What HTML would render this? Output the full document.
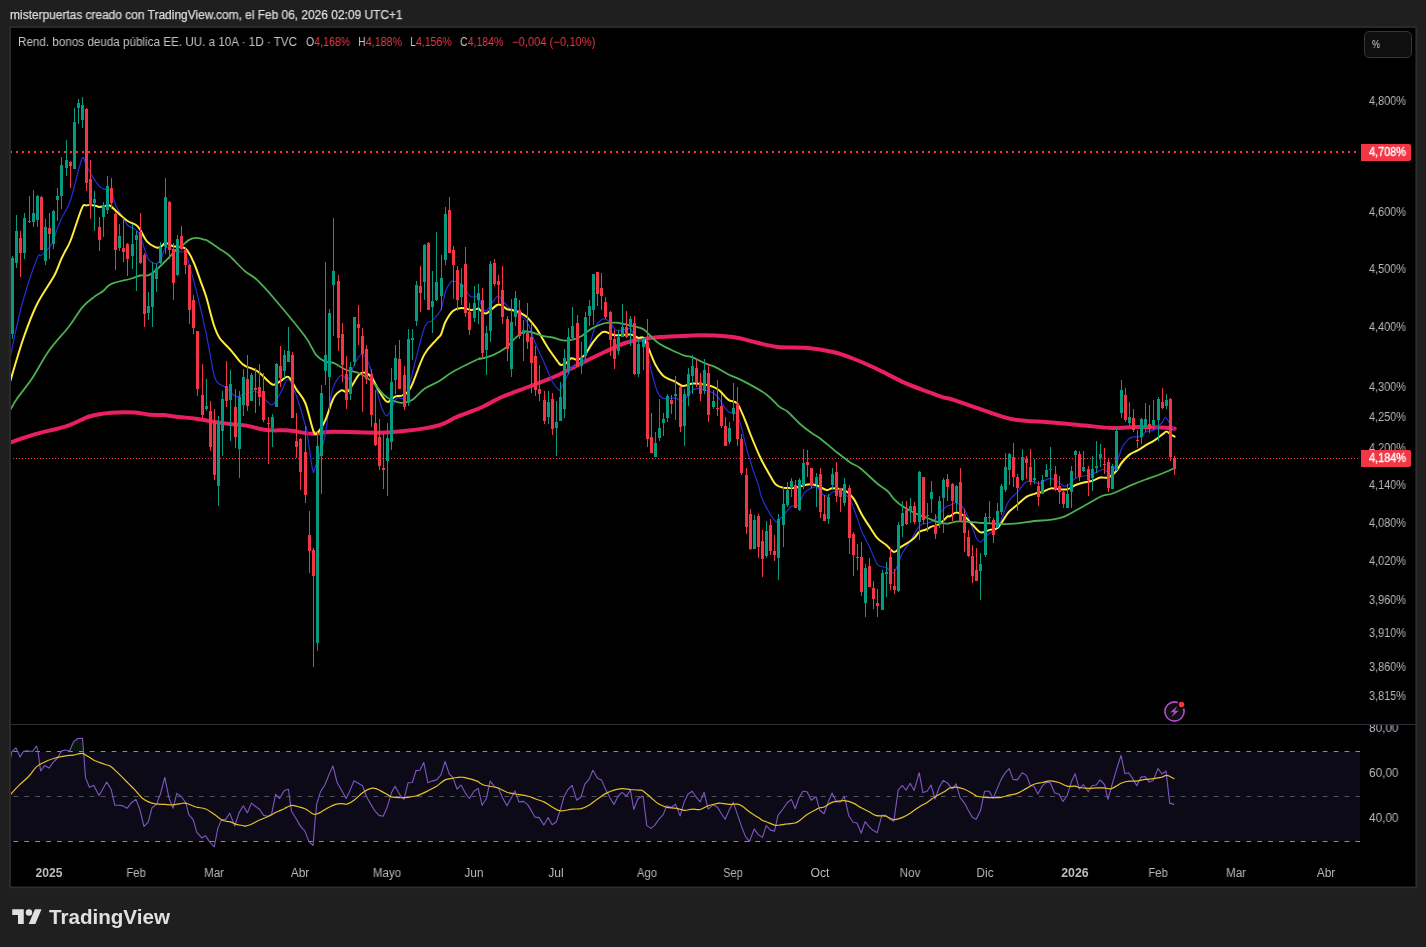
<!DOCTYPE html>
<html><head><meta charset="utf-8"><title>chart</title>
<style>
html,body{margin:0;padding:0;}
body{width:1426px;height:947px;background:#1f1f1f;position:relative;overflow:hidden;font-family:"Liberation Sans",sans-serif;}
.t{position:absolute;white-space:nowrap;will-change:transform;line-height:14px;font-size:12px;color:#c4c4c4;}
.ax{font-size:12px;color:#b8b9be}
.tm{font-size:12px;color:#b8b9be}
.b{font-weight:bold;color:#bcbcbc}
#frame{position:absolute;left:9px;top:26px;width:1406px;height:859px;border:1px solid #2e2e2e;background:#000;box-shadow:inset 0 0 0 1px #161616}
.red{color:#f23645}
.tag{position:absolute;left:1361px;width:50px;height:17px;background:#f23645;color:#fff;font-size:11.4px;line-height:17px;border-radius:0 2px 2px 0}
.tg{color:#fff;font-size:12px;-webkit-text-stroke:0.35px #fff}
#pct{position:absolute;left:1363.6px;top:30.6px;width:46.6px;height:25px;border:1.2px solid #363636;border-radius:5px;background:#0f0f0f}
</style></head><body>
<div class="t " style="left:10px;transform-origin:0 50%;transform:scaleX(0.9937);top:8px;font-size:12px;color:#dcdcdc;-webkit-text-stroke:0.25px #dcdcdc"><span id="f34">misterpuertas creado con TradingView.com, el Feb 06, 2026 02:09 UTC+1</span></div>
<svg width="1426" height="947" viewBox="0 0 1426 947" style="position:absolute;left:0;top:0">
<defs><clipPath id="cp"><rect x="11" y="28" width="1350" height="696"/></clipPath><clipPath id="cr"><rect x="11" y="725" width="1350" height="135"/></clipPath></defs>
<rect x="9.9" y="26.9" width="1406.5" height="860.6" fill="#000" stroke="#242424" stroke-width="2.2"/>
<rect x="9.9" y="26.9" width="1406.5" height="860.6" fill="none" stroke="#2f2f2f" stroke-width="1.1"/>
<g clip-path="url(#cp)">
<path d="M10,151h2v2h-2zM16,151h2v2h-2zM22,151h2v2h-2zM28,151h2v2h-2zM34,151h2v2h-2zM40,151h2v2h-2zM46,151h2v2h-2zM52,151h2v2h-2zM58,151h2v2h-2zM64,151h2v2h-2zM70,151h2v2h-2zM76,151h2v2h-2zM82,151h2v2h-2zM88,151h2v2h-2zM94,151h2v2h-2zM100,151h2v2h-2zM106,151h2v2h-2zM112,151h2v2h-2zM118,151h2v2h-2zM124,151h2v2h-2zM130,151h2v2h-2zM136,151h2v2h-2zM142,151h2v2h-2zM148,151h2v2h-2zM154,151h2v2h-2zM160,151h2v2h-2zM166,151h2v2h-2zM172,151h2v2h-2zM178,151h2v2h-2zM184,151h2v2h-2zM190,151h2v2h-2zM196,151h2v2h-2zM202,151h2v2h-2zM208,151h2v2h-2zM214,151h2v2h-2zM220,151h2v2h-2zM226,151h2v2h-2zM232,151h2v2h-2zM238,151h2v2h-2zM244,151h2v2h-2zM250,151h2v2h-2zM256,151h2v2h-2zM262,151h2v2h-2zM268,151h2v2h-2zM274,151h2v2h-2zM280,151h2v2h-2zM286,151h2v2h-2zM292,151h2v2h-2zM298,151h2v2h-2zM304,151h2v2h-2zM310,151h2v2h-2zM316,151h2v2h-2zM322,151h2v2h-2zM328,151h2v2h-2zM334,151h2v2h-2zM340,151h2v2h-2zM346,151h2v2h-2zM352,151h2v2h-2zM358,151h2v2h-2zM364,151h2v2h-2zM370,151h2v2h-2zM376,151h2v2h-2zM382,151h2v2h-2zM388,151h2v2h-2zM394,151h2v2h-2zM400,151h2v2h-2zM406,151h2v2h-2zM412,151h2v2h-2zM418,151h2v2h-2zM424,151h2v2h-2zM430,151h2v2h-2zM436,151h2v2h-2zM442,151h2v2h-2zM448,151h2v2h-2zM454,151h2v2h-2zM460,151h2v2h-2zM466,151h2v2h-2zM472,151h2v2h-2zM478,151h2v2h-2zM484,151h2v2h-2zM490,151h2v2h-2zM496,151h2v2h-2zM502,151h2v2h-2zM508,151h2v2h-2zM514,151h2v2h-2zM520,151h2v2h-2zM526,151h2v2h-2zM532,151h2v2h-2zM538,151h2v2h-2zM544,151h2v2h-2zM550,151h2v2h-2zM556,151h2v2h-2zM562,151h2v2h-2zM568,151h2v2h-2zM574,151h2v2h-2zM580,151h2v2h-2zM586,151h2v2h-2zM592,151h2v2h-2zM598,151h2v2h-2zM604,151h2v2h-2zM610,151h2v2h-2zM616,151h2v2h-2zM622,151h2v2h-2zM628,151h2v2h-2zM634,151h2v2h-2zM640,151h2v2h-2zM646,151h2v2h-2zM652,151h2v2h-2zM658,151h2v2h-2zM664,151h2v2h-2zM670,151h2v2h-2zM676,151h2v2h-2zM682,151h2v2h-2zM688,151h2v2h-2zM694,151h2v2h-2zM700,151h2v2h-2zM706,151h2v2h-2zM712,151h2v2h-2zM718,151h2v2h-2zM724,151h2v2h-2zM730,151h2v2h-2zM736,151h2v2h-2zM742,151h2v2h-2zM748,151h2v2h-2zM754,151h2v2h-2zM760,151h2v2h-2zM766,151h2v2h-2zM772,151h2v2h-2zM778,151h2v2h-2zM784,151h2v2h-2zM790,151h2v2h-2zM796,151h2v2h-2zM802,151h2v2h-2zM808,151h2v2h-2zM814,151h2v2h-2zM820,151h2v2h-2zM826,151h2v2h-2zM832,151h2v2h-2zM838,151h2v2h-2zM844,151h2v2h-2zM850,151h2v2h-2zM856,151h2v2h-2zM862,151h2v2h-2zM868,151h2v2h-2zM874,151h2v2h-2zM880,151h2v2h-2zM886,151h2v2h-2zM892,151h2v2h-2zM898,151h2v2h-2zM904,151h2v2h-2zM910,151h2v2h-2zM916,151h2v2h-2zM922,151h2v2h-2zM928,151h2v2h-2zM934,151h2v2h-2zM940,151h2v2h-2zM946,151h2v2h-2zM952,151h2v2h-2zM958,151h2v2h-2zM964,151h2v2h-2zM970,151h2v2h-2zM976,151h2v2h-2zM982,151h2v2h-2zM988,151h2v2h-2zM994,151h2v2h-2zM1000,151h2v2h-2zM1006,151h2v2h-2zM1012,151h2v2h-2zM1018,151h2v2h-2zM1024,151h2v2h-2zM1030,151h2v2h-2zM1036,151h2v2h-2zM1042,151h2v2h-2zM1048,151h2v2h-2zM1054,151h2v2h-2zM1060,151h2v2h-2zM1066,151h2v2h-2zM1072,151h2v2h-2zM1078,151h2v2h-2zM1084,151h2v2h-2zM1090,151h2v2h-2zM1096,151h2v2h-2zM1102,151h2v2h-2zM1108,151h2v2h-2zM1114,151h2v2h-2zM1120,151h2v2h-2zM1126,151h2v2h-2zM1132,151h2v2h-2zM1138,151h2v2h-2zM1144,151h2v2h-2zM1150,151h2v2h-2zM1156,151h2v2h-2zM1162,151h2v2h-2zM1168,151h2v2h-2zM1174,151h2v2h-2zM1180,151h2v2h-2zM1186,151h2v2h-2zM1192,151h2v2h-2zM1198,151h2v2h-2zM1204,151h2v2h-2zM1210,151h2v2h-2zM1216,151h2v2h-2zM1222,151h2v2h-2zM1228,151h2v2h-2zM1234,151h2v2h-2zM1240,151h2v2h-2zM1246,151h2v2h-2zM1252,151h2v2h-2zM1258,151h2v2h-2zM1264,151h2v2h-2zM1270,151h2v2h-2zM1276,151h2v2h-2zM1282,151h2v2h-2zM1288,151h2v2h-2zM1294,151h2v2h-2zM1300,151h2v2h-2zM1306,151h2v2h-2zM1312,151h2v2h-2zM1318,151h2v2h-2zM1324,151h2v2h-2zM1330,151h2v2h-2zM1336,151h2v2h-2zM1342,151h2v2h-2zM1348,151h2v2h-2zM1354,151h2v2h-2z" fill="#f23645"/>
<path d="M13,458h1v1h-1zM16,458h1v1h-1zM19,458h1v1h-1zM22,458h1v1h-1zM25,458h1v1h-1zM28,458h1v1h-1zM31,458h1v1h-1zM34,458h1v1h-1zM37,458h1v1h-1zM40,458h1v1h-1zM43,458h1v1h-1zM46,458h1v1h-1zM49,458h1v1h-1zM52,458h1v1h-1zM55,458h1v1h-1zM58,458h1v1h-1zM61,458h1v1h-1zM64,458h1v1h-1zM67,458h1v1h-1zM70,458h1v1h-1zM73,458h1v1h-1zM76,458h1v1h-1zM79,458h1v1h-1zM82,458h1v1h-1zM85,458h1v1h-1zM88,458h1v1h-1zM91,458h1v1h-1zM94,458h1v1h-1zM97,458h1v1h-1zM100,458h1v1h-1zM103,458h1v1h-1zM106,458h1v1h-1zM109,458h1v1h-1zM112,458h1v1h-1zM115,458h1v1h-1zM118,458h1v1h-1zM121,458h1v1h-1zM124,458h1v1h-1zM127,458h1v1h-1zM130,458h1v1h-1zM133,458h1v1h-1zM136,458h1v1h-1zM139,458h1v1h-1zM142,458h1v1h-1zM145,458h1v1h-1zM148,458h1v1h-1zM151,458h1v1h-1zM154,458h1v1h-1zM157,458h1v1h-1zM160,458h1v1h-1zM163,458h1v1h-1zM166,458h1v1h-1zM169,458h1v1h-1zM172,458h1v1h-1zM175,458h1v1h-1zM178,458h1v1h-1zM181,458h1v1h-1zM184,458h1v1h-1zM187,458h1v1h-1zM190,458h1v1h-1zM193,458h1v1h-1zM196,458h1v1h-1zM199,458h1v1h-1zM202,458h1v1h-1zM205,458h1v1h-1zM208,458h1v1h-1zM211,458h1v1h-1zM214,458h1v1h-1zM217,458h1v1h-1zM220,458h1v1h-1zM223,458h1v1h-1zM226,458h1v1h-1zM229,458h1v1h-1zM232,458h1v1h-1zM235,458h1v1h-1zM238,458h1v1h-1zM241,458h1v1h-1zM244,458h1v1h-1zM247,458h1v1h-1zM250,458h1v1h-1zM253,458h1v1h-1zM256,458h1v1h-1zM259,458h1v1h-1zM262,458h1v1h-1zM265,458h1v1h-1zM268,458h1v1h-1zM271,458h1v1h-1zM274,458h1v1h-1zM277,458h1v1h-1zM280,458h1v1h-1zM283,458h1v1h-1zM286,458h1v1h-1zM289,458h1v1h-1zM292,458h1v1h-1zM295,458h1v1h-1zM298,458h1v1h-1zM301,458h1v1h-1zM304,458h1v1h-1zM307,458h1v1h-1zM310,458h1v1h-1zM313,458h1v1h-1zM316,458h1v1h-1zM319,458h1v1h-1zM322,458h1v1h-1zM325,458h1v1h-1zM328,458h1v1h-1zM331,458h1v1h-1zM334,458h1v1h-1zM337,458h1v1h-1zM340,458h1v1h-1zM343,458h1v1h-1zM346,458h1v1h-1zM349,458h1v1h-1zM352,458h1v1h-1zM355,458h1v1h-1zM358,458h1v1h-1zM361,458h1v1h-1zM364,458h1v1h-1zM367,458h1v1h-1zM370,458h1v1h-1zM373,458h1v1h-1zM376,458h1v1h-1zM379,458h1v1h-1zM382,458h1v1h-1zM385,458h1v1h-1zM388,458h1v1h-1zM391,458h1v1h-1zM394,458h1v1h-1zM397,458h1v1h-1zM400,458h1v1h-1zM403,458h1v1h-1zM406,458h1v1h-1zM409,458h1v1h-1zM412,458h1v1h-1zM415,458h1v1h-1zM418,458h1v1h-1zM421,458h1v1h-1zM424,458h1v1h-1zM427,458h1v1h-1zM430,458h1v1h-1zM433,458h1v1h-1zM436,458h1v1h-1zM439,458h1v1h-1zM442,458h1v1h-1zM445,458h1v1h-1zM448,458h1v1h-1zM451,458h1v1h-1zM454,458h1v1h-1zM457,458h1v1h-1zM460,458h1v1h-1zM463,458h1v1h-1zM466,458h1v1h-1zM469,458h1v1h-1zM472,458h1v1h-1zM475,458h1v1h-1zM478,458h1v1h-1zM481,458h1v1h-1zM484,458h1v1h-1zM487,458h1v1h-1zM490,458h1v1h-1zM493,458h1v1h-1zM496,458h1v1h-1zM499,458h1v1h-1zM502,458h1v1h-1zM505,458h1v1h-1zM508,458h1v1h-1zM511,458h1v1h-1zM514,458h1v1h-1zM517,458h1v1h-1zM520,458h1v1h-1zM523,458h1v1h-1zM526,458h1v1h-1zM529,458h1v1h-1zM532,458h1v1h-1zM535,458h1v1h-1zM538,458h1v1h-1zM541,458h1v1h-1zM544,458h1v1h-1zM547,458h1v1h-1zM550,458h1v1h-1zM553,458h1v1h-1zM556,458h1v1h-1zM559,458h1v1h-1zM562,458h1v1h-1zM565,458h1v1h-1zM568,458h1v1h-1zM571,458h1v1h-1zM574,458h1v1h-1zM577,458h1v1h-1zM580,458h1v1h-1zM583,458h1v1h-1zM586,458h1v1h-1zM589,458h1v1h-1zM592,458h1v1h-1zM595,458h1v1h-1zM598,458h1v1h-1zM601,458h1v1h-1zM604,458h1v1h-1zM607,458h1v1h-1zM610,458h1v1h-1zM613,458h1v1h-1zM616,458h1v1h-1zM619,458h1v1h-1zM622,458h1v1h-1zM625,458h1v1h-1zM628,458h1v1h-1zM631,458h1v1h-1zM634,458h1v1h-1zM637,458h1v1h-1zM640,458h1v1h-1zM643,458h1v1h-1zM646,458h1v1h-1zM649,458h1v1h-1zM652,458h1v1h-1zM655,458h1v1h-1zM658,458h1v1h-1zM661,458h1v1h-1zM664,458h1v1h-1zM667,458h1v1h-1zM670,458h1v1h-1zM673,458h1v1h-1zM676,458h1v1h-1zM679,458h1v1h-1zM682,458h1v1h-1zM685,458h1v1h-1zM688,458h1v1h-1zM691,458h1v1h-1zM694,458h1v1h-1zM697,458h1v1h-1zM700,458h1v1h-1zM703,458h1v1h-1zM706,458h1v1h-1zM709,458h1v1h-1zM712,458h1v1h-1zM715,458h1v1h-1zM718,458h1v1h-1zM721,458h1v1h-1zM724,458h1v1h-1zM727,458h1v1h-1zM730,458h1v1h-1zM733,458h1v1h-1zM736,458h1v1h-1zM739,458h1v1h-1zM742,458h1v1h-1zM745,458h1v1h-1zM748,458h1v1h-1zM751,458h1v1h-1zM754,458h1v1h-1zM757,458h1v1h-1zM760,458h1v1h-1zM763,458h1v1h-1zM766,458h1v1h-1zM769,458h1v1h-1zM772,458h1v1h-1zM775,458h1v1h-1zM778,458h1v1h-1zM781,458h1v1h-1zM784,458h1v1h-1zM787,458h1v1h-1zM790,458h1v1h-1zM793,458h1v1h-1zM796,458h1v1h-1zM799,458h1v1h-1zM802,458h1v1h-1zM805,458h1v1h-1zM808,458h1v1h-1zM811,458h1v1h-1zM814,458h1v1h-1zM817,458h1v1h-1zM820,458h1v1h-1zM823,458h1v1h-1zM826,458h1v1h-1zM829,458h1v1h-1zM832,458h1v1h-1zM835,458h1v1h-1zM838,458h1v1h-1zM841,458h1v1h-1zM844,458h1v1h-1zM847,458h1v1h-1zM850,458h1v1h-1zM853,458h1v1h-1zM856,458h1v1h-1zM859,458h1v1h-1zM862,458h1v1h-1zM865,458h1v1h-1zM868,458h1v1h-1zM871,458h1v1h-1zM874,458h1v1h-1zM877,458h1v1h-1zM880,458h1v1h-1zM883,458h1v1h-1zM886,458h1v1h-1zM889,458h1v1h-1zM892,458h1v1h-1zM895,458h1v1h-1zM898,458h1v1h-1zM901,458h1v1h-1zM904,458h1v1h-1zM907,458h1v1h-1zM910,458h1v1h-1zM913,458h1v1h-1zM916,458h1v1h-1zM919,458h1v1h-1zM922,458h1v1h-1zM925,458h1v1h-1zM928,458h1v1h-1zM931,458h1v1h-1zM934,458h1v1h-1zM937,458h1v1h-1zM940,458h1v1h-1zM943,458h1v1h-1zM946,458h1v1h-1zM949,458h1v1h-1zM952,458h1v1h-1zM955,458h1v1h-1zM958,458h1v1h-1zM961,458h1v1h-1zM964,458h1v1h-1zM967,458h1v1h-1zM970,458h1v1h-1zM973,458h1v1h-1zM976,458h1v1h-1zM979,458h1v1h-1zM982,458h1v1h-1zM985,458h1v1h-1zM988,458h1v1h-1zM991,458h1v1h-1zM994,458h1v1h-1zM997,458h1v1h-1zM1000,458h1v1h-1zM1003,458h1v1h-1zM1006,458h1v1h-1zM1009,458h1v1h-1zM1012,458h1v1h-1zM1015,458h1v1h-1zM1018,458h1v1h-1zM1021,458h1v1h-1zM1024,458h1v1h-1zM1027,458h1v1h-1zM1030,458h1v1h-1zM1033,458h1v1h-1zM1036,458h1v1h-1zM1039,458h1v1h-1zM1042,458h1v1h-1zM1045,458h1v1h-1zM1048,458h1v1h-1zM1051,458h1v1h-1zM1054,458h1v1h-1zM1057,458h1v1h-1zM1060,458h1v1h-1zM1063,458h1v1h-1zM1066,458h1v1h-1zM1069,458h1v1h-1zM1072,458h1v1h-1zM1075,458h1v1h-1zM1078,458h1v1h-1zM1081,458h1v1h-1zM1084,458h1v1h-1zM1087,458h1v1h-1zM1090,458h1v1h-1zM1093,458h1v1h-1zM1096,458h1v1h-1zM1099,458h1v1h-1zM1102,458h1v1h-1zM1105,458h1v1h-1zM1108,458h1v1h-1zM1111,458h1v1h-1zM1114,458h1v1h-1zM1117,458h1v1h-1zM1120,458h1v1h-1zM1123,458h1v1h-1zM1126,458h1v1h-1zM1129,458h1v1h-1zM1132,458h1v1h-1zM1135,458h1v1h-1zM1138,458h1v1h-1zM1141,458h1v1h-1zM1144,458h1v1h-1zM1147,458h1v1h-1zM1150,458h1v1h-1zM1153,458h1v1h-1zM1156,458h1v1h-1zM1159,458h1v1h-1zM1162,458h1v1h-1zM1165,458h1v1h-1zM1168,458h1v1h-1zM1171,458h1v1h-1zM1174,458h1v1h-1zM1177,458h1v1h-1zM1180,458h1v1h-1zM1183,458h1v1h-1zM1186,458h1v1h-1zM1189,458h1v1h-1zM1192,458h1v1h-1zM1195,458h1v1h-1zM1198,458h1v1h-1zM1201,458h1v1h-1zM1204,458h1v1h-1zM1207,458h1v1h-1zM1210,458h1v1h-1zM1213,458h1v1h-1zM1216,458h1v1h-1zM1219,458h1v1h-1zM1222,458h1v1h-1zM1225,458h1v1h-1zM1228,458h1v1h-1zM1231,458h1v1h-1zM1234,458h1v1h-1zM1237,458h1v1h-1zM1240,458h1v1h-1zM1243,458h1v1h-1zM1246,458h1v1h-1zM1249,458h1v1h-1zM1252,458h1v1h-1zM1255,458h1v1h-1zM1258,458h1v1h-1zM1261,458h1v1h-1zM1264,458h1v1h-1zM1267,458h1v1h-1zM1270,458h1v1h-1zM1273,458h1v1h-1zM1276,458h1v1h-1zM1279,458h1v1h-1zM1282,458h1v1h-1zM1285,458h1v1h-1zM1288,458h1v1h-1zM1291,458h1v1h-1zM1294,458h1v1h-1zM1297,458h1v1h-1zM1300,458h1v1h-1zM1303,458h1v1h-1zM1306,458h1v1h-1zM1309,458h1v1h-1zM1312,458h1v1h-1zM1315,458h1v1h-1zM1318,458h1v1h-1zM1321,458h1v1h-1zM1324,458h1v1h-1zM1327,458h1v1h-1zM1330,458h1v1h-1zM1333,458h1v1h-1zM1336,458h1v1h-1zM1339,458h1v1h-1zM1342,458h1v1h-1zM1345,458h1v1h-1zM1348,458h1v1h-1zM1351,458h1v1h-1zM1354,458h1v1h-1zM1357,458h1v1h-1z" fill="#f23645"/>
<path d="M10.0,442.7C14.2,441.3 25.7,437.0 35.3,434.2C44.9,431.4 58.5,428.8 67.5,425.8C76.5,422.9 82.1,418.7 89.4,416.5C96.7,414.3 103.8,413.4 111.4,412.8C119.0,412.2 128.5,412.3 135.0,412.6C141.5,412.9 145.5,414.4 150.3,414.8C155.1,415.2 159.0,414.7 163.8,415.1C168.6,415.5 173.7,416.4 179.0,417.0C184.3,417.6 190.3,417.9 195.9,418.7C201.5,419.4 207.2,420.6 212.8,421.5C218.4,422.4 224.3,423.4 229.7,424.0C235.1,424.6 238.8,424.4 245.0,425.4C251.2,426.4 259.7,429.1 267.0,430.0C274.3,430.9 281.4,429.9 289.0,430.5C296.6,431.1 305.3,433.6 312.6,433.8C319.9,434.0 321.6,432.0 332.9,431.8C344.2,431.6 368.4,432.8 380.2,432.7C392.0,432.6 396.5,431.7 403.9,431.0C411.3,430.3 418.3,429.4 424.5,428.4C430.7,427.3 435.5,426.7 441.0,424.7C446.5,422.7 450.9,419.4 457.4,416.6C463.9,413.8 472.6,411.3 480.0,408.0C487.4,404.7 493.6,400.7 502.0,397.0C510.4,393.3 521.7,389.5 530.7,386.0C539.7,382.5 547.5,379.8 556.0,376.0C564.5,372.2 572.9,367.4 581.4,363.2C589.9,359.0 599.5,354.4 606.8,351.0C614.1,347.6 619.4,345.0 625.3,343.0C631.2,341.0 636.5,340.2 642.2,339.2C647.9,338.2 652.7,337.6 659.5,337.0C666.3,336.4 676.1,336.2 682.8,335.9C689.5,335.6 694.3,335.4 699.7,335.3C705.1,335.2 709.0,335.2 715.2,335.6C721.4,336.0 730.1,336.6 737.1,337.8C744.1,339.0 750.6,341.3 757.3,342.8C764.0,344.3 769.1,346.1 777.5,347.0C785.9,347.9 798.5,347.1 807.8,347.9C817.0,348.7 825.7,350.3 833.0,352.0C840.3,353.7 844.6,355.3 851.6,358.0C858.6,360.7 866.0,363.8 875.0,368.0C884.0,372.2 896.2,379.1 905.4,383.2C914.6,387.3 923.7,390.1 930.0,392.5C936.3,394.9 939.0,396.0 943.2,397.3C947.4,398.6 945.5,397.3 955.0,400.4C964.5,403.5 989.7,412.5 1000.0,415.8C1010.3,419.1 1008.4,418.9 1017.0,420.0C1025.6,421.1 1040.0,421.6 1051.4,422.5C1062.8,423.4 1075.1,424.7 1085.2,425.6C1095.3,426.5 1103.7,427.8 1112.2,428.0C1120.7,428.2 1127.9,427.1 1136.0,427.0C1144.1,426.9 1154.5,427.3 1161.0,427.6C1167.5,427.9 1172.5,428.5 1174.8,428.7" fill="none" stroke="#e91e63" stroke-width="4" stroke-linejoin="round" stroke-linecap="round" />
<path d="M10.0,358.3C11.1,353.2 14.1,337.8 16.4,327.9C18.6,318.0 20.1,310.6 23.5,299.0C26.9,287.4 34.1,265.8 37.0,258.5C39.9,251.2 39.2,257.1 41.0,255.5C42.8,253.9 46.1,251.1 48.0,248.9C49.9,246.7 50.2,247.3 52.3,242.5C54.4,237.7 57.7,227.0 60.7,220.0C63.7,213.0 66.8,210.8 70.3,200.7C73.8,190.6 79.1,165.1 81.8,159.3C84.5,153.5 84.3,162.6 86.4,166.0C88.5,169.4 92.3,176.2 94.5,179.6C96.7,183.0 97.9,184.8 99.4,186.3C100.9,187.9 101.5,188.1 103.5,188.9C105.5,189.8 109.4,188.7 111.4,191.4C113.4,194.1 113.5,200.5 115.5,205.0C117.5,209.5 121.6,215.0 123.6,218.4C125.6,221.8 125.5,223.2 127.6,225.2C129.7,227.2 134.2,228.3 136.4,230.3C138.6,232.3 139.2,233.9 140.5,237.0C141.8,240.1 143.2,245.2 144.5,248.9C145.8,252.6 146.8,256.9 148.6,259.4C150.4,261.9 153.3,263.5 155.3,263.7C157.3,263.9 158.7,262.9 160.4,260.3C162.1,257.7 163.3,249.8 165.5,248.1C167.7,246.4 170.7,249.4 173.4,250.0C176.1,250.6 179.5,251.2 181.5,251.8C183.5,252.4 184.3,251.2 185.6,253.5C186.9,255.8 187.5,258.3 189.5,265.4C191.5,272.4 194.8,284.3 197.6,295.8C200.4,307.3 203.7,321.7 206.4,334.6C209.1,347.6 211.8,365.5 213.7,373.5C215.6,381.5 215.8,380.4 217.9,382.8C220.0,385.2 223.6,385.6 226.5,387.9C229.4,390.1 232.5,395.2 235.3,396.3C238.1,397.4 240.0,395.4 243.4,394.6C246.8,393.8 252.1,390.7 255.5,391.3C258.9,391.9 260.8,395.8 263.6,398.0C266.4,400.2 269.6,405.6 272.4,404.8C275.2,404.0 277.8,397.2 280.5,393.0C283.2,388.8 285.7,378.8 288.4,379.4C291.1,379.9 293.7,388.7 296.5,396.3C299.3,403.9 303.6,419.4 305.3,425.0C307.0,430.6 305.5,422.6 306.7,430.0C307.9,437.4 311.2,463.5 312.6,469.7C314.0,475.9 313.4,471.3 315.1,467.2C316.8,463.1 320.9,451.5 322.7,445.3C324.5,439.1 324.9,436.8 326.0,430.0C327.1,423.2 328.4,411.8 329.5,404.8C330.6,397.8 331.4,392.4 332.9,387.9C334.4,383.4 336.9,379.8 338.5,377.7C340.1,375.6 340.9,374.9 342.5,375.2C344.1,375.5 346.0,381.2 348.0,379.4C350.0,377.6 352.2,368.4 354.5,364.2C356.8,360.0 359.3,354.7 361.6,354.4C363.9,354.1 366.1,357.2 368.4,362.5C370.7,367.8 373.2,378.6 375.5,386.2C377.8,393.8 380.0,403.3 381.9,408.2C383.8,413.1 385.4,415.8 387.0,415.8C388.6,415.8 389.8,411.2 391.5,408.2C393.2,405.2 395.0,399.7 397.1,398.0C399.2,396.3 401.8,400.5 403.9,398.0C406.0,395.5 406.4,394.4 409.8,382.8C413.2,371.2 420.3,339.1 424.1,328.7C427.9,318.3 429.8,323.5 432.6,320.3C435.4,317.1 438.9,314.1 441.0,309.3C443.1,304.5 444.0,295.7 445.4,291.5C446.8,287.3 448.2,285.6 449.5,283.9C450.8,282.1 451.1,280.7 453.4,281.0C455.6,281.3 460.3,283.1 463.0,285.6C465.7,288.1 467.7,293.9 469.6,295.8C471.5,297.7 472.8,296.8 474.3,297.0C475.8,297.2 477.3,295.8 478.4,297.0C479.5,298.2 479.7,301.7 481.0,304.0C482.3,306.3 483.7,312.1 486.4,310.8C489.1,309.6 494.3,298.2 497.0,296.5C499.7,294.8 500.1,298.4 502.5,300.7C504.9,302.9 508.6,307.8 511.4,310.0C514.2,312.2 516.8,312.1 519.5,314.2C522.2,316.3 524.8,317.8 527.5,322.7C530.2,327.6 532.8,337.1 535.6,343.8C538.4,350.6 541.6,356.9 544.4,363.2C547.2,369.5 550.3,377.6 552.5,381.8C554.7,386.0 556.4,387.3 557.7,388.6C559.0,389.9 558.6,391.9 560.4,389.4C562.2,386.9 566.6,377.2 568.6,373.4C570.6,369.6 570.5,368.0 572.6,366.6C574.7,365.2 578.8,367.7 581.4,364.9C584.0,362.1 586.0,355.9 588.2,349.7C590.5,343.5 592.7,332.7 594.9,327.7C597.1,322.7 599.7,321.0 601.5,319.6C603.3,318.2 604.4,318.8 605.9,319.3C607.4,319.8 609.0,321.0 610.5,322.7C612.0,324.4 613.2,328.1 615.2,329.4C617.2,330.7 620.0,330.4 622.5,330.3C625.0,330.2 628.4,327.6 630.4,328.6C632.4,329.6 632.3,334.0 634.5,336.2C636.7,338.4 641.2,339.2 643.4,342.0C645.6,344.8 646.1,348.1 647.5,353.0C648.9,357.9 649.8,365.2 651.5,371.7C653.2,378.2 655.5,387.6 657.5,392.0C659.5,396.4 660.5,397.4 663.5,398.4C666.5,399.4 672.3,397.4 675.5,397.9C678.7,398.4 680.0,402.6 682.8,401.3C685.6,400.0 689.9,392.4 692.4,390.3C694.9,388.2 695.3,388.5 698.0,388.6C700.7,388.7 705.7,390.1 708.5,391.0C711.3,391.9 713.1,392.5 715.0,394.0C716.9,395.5 718.6,398.0 720.0,400.0C721.4,402.0 721.9,403.7 723.5,405.8C725.1,407.9 727.8,411.4 729.5,412.5C731.2,413.6 732.3,411.8 733.6,412.2C734.9,412.6 736.2,412.4 737.5,415.0C738.8,417.6 740.0,422.2 741.5,427.7C743.0,433.2 744.9,442.4 746.4,448.0C747.9,453.6 749.4,457.8 750.5,461.5C751.6,465.2 751.7,466.1 753.0,470.0C754.3,473.9 756.8,480.3 758.4,485.2C760.0,490.1 759.8,493.7 762.5,499.6C765.2,505.5 771.8,517.0 774.5,520.4C777.2,523.8 777.0,520.7 778.5,519.9C780.0,519.1 781.2,517.9 783.4,515.6C785.5,513.3 789.0,508.0 791.4,506.3C793.8,504.6 795.8,507.6 797.8,505.5C799.8,503.4 802.0,496.3 803.6,493.7C805.2,491.1 805.5,491.2 807.6,490.0C809.7,488.8 814.2,486.3 816.4,486.6C818.5,486.9 819.1,490.5 820.5,492.0C821.9,493.5 823.1,494.8 824.5,495.4C825.9,496.0 827.2,496.3 828.6,495.7C830.0,495.1 830.6,492.6 832.6,492.0C834.6,491.4 837.8,491.2 840.6,492.3C843.4,493.4 846.7,494.2 849.5,498.7C852.3,503.1 855.5,513.6 857.5,519.0C859.5,524.4 859.5,526.1 861.5,530.8C863.5,535.4 866.8,541.3 869.5,546.9C872.2,552.5 874.8,561.1 877.6,564.6C880.4,568.1 883.9,566.3 886.5,567.7C889.1,569.1 891.3,573.8 893.3,573.0C895.3,572.2 897.0,566.4 898.5,563.0C900.0,559.6 900.6,556.5 902.6,552.8C904.6,549.1 907.7,545.5 910.5,541.0C913.3,536.5 916.7,528.8 919.5,525.8C922.3,522.8 924.7,524.3 927.4,523.2C930.1,522.1 932.8,521.4 935.5,519.0C938.2,516.6 941.5,511.1 943.5,508.9C945.5,506.7 946.4,506.4 947.5,505.8C948.6,505.2 948.5,505.8 950.0,505.3C951.5,504.8 954.0,502.1 956.4,502.8C958.8,503.5 961.8,505.4 964.5,509.6C967.2,513.8 970.5,523.2 972.5,528.0C974.5,532.8 975.1,536.0 976.5,538.3C977.9,540.6 979.1,542.3 980.6,542.0C982.1,541.7 984.0,538.0 985.5,536.6C987.0,535.2 987.5,535.0 989.5,533.6C991.5,532.2 995.5,530.3 997.5,528.0C999.5,525.7 1000.1,523.1 1001.5,519.7C1002.9,516.4 1004.3,511.2 1005.6,507.9C1006.9,504.6 1007.5,502.7 1009.5,500.0C1011.5,497.3 1014.8,494.9 1017.6,491.8C1020.4,488.8 1023.6,483.3 1026.4,481.7C1029.2,480.1 1032.5,481.6 1034.5,482.0C1036.5,482.4 1037.2,483.9 1038.6,483.9C1039.9,483.8 1040.6,482.6 1042.6,481.7C1044.6,480.8 1048.1,478.2 1050.7,478.3C1053.3,478.4 1056.1,480.7 1058.2,482.0C1060.3,483.3 1061.9,485.4 1063.6,485.9C1065.3,486.4 1066.3,486.3 1068.3,485.0C1070.3,483.7 1073.0,479.8 1075.6,478.3C1078.2,476.8 1080.9,476.7 1083.7,476.0C1086.5,475.3 1089.7,474.9 1092.5,474.0C1095.3,473.1 1098.4,471.1 1100.4,470.4C1102.4,469.6 1102.8,468.9 1104.5,469.5C1106.2,470.1 1108.6,475.1 1110.6,474.0C1112.6,472.9 1114.8,467.2 1116.6,463.0C1118.4,458.8 1120.0,452.2 1121.5,448.7C1123.0,445.2 1124.5,443.7 1125.8,442.0C1127.1,440.3 1128.2,439.2 1129.5,438.3C1130.8,437.4 1131.5,437.2 1133.5,436.9C1135.5,436.6 1139.5,437.4 1141.5,436.6C1143.5,435.8 1143.3,433.1 1145.5,432.0C1147.7,430.9 1151.7,431.5 1154.5,429.8C1157.3,428.1 1160.6,424.1 1162.4,422.0C1164.2,419.9 1164.2,417.0 1165.6,417.5C1167.0,418.0 1169.2,423.0 1170.7,425.0C1172.2,427.0 1173.8,428.8 1174.4,429.6" fill="none" stroke="#2b2bdc" stroke-width="1.2" stroke-linejoin="round" stroke-linecap="round" />
<path d="M10.0,382.0C12.2,374.7 19.0,351.0 23.5,338.0C28.0,325.0 31.9,314.5 37.0,304.2C42.1,293.9 49.9,283.6 53.9,276.3C57.9,269.0 58.7,264.7 60.7,260.3C62.7,255.9 64.1,253.4 65.8,250.0C67.5,246.6 68.1,246.9 70.8,240.0C73.5,233.1 79.2,214.1 81.8,208.3C84.4,202.5 84.3,205.9 86.4,205.4C88.5,204.9 92.3,205.1 94.5,205.4C96.7,205.7 97.2,207.0 99.4,207.0C101.6,207.0 105.5,205.5 107.5,205.4C109.5,205.3 109.4,205.1 111.4,206.6C113.4,208.1 116.8,211.8 119.5,214.2C122.2,216.6 124.8,219.2 127.6,221.0C130.4,222.8 134.2,223.6 136.4,225.2C138.6,226.8 138.8,227.6 140.5,230.3C142.2,233.0 144.4,238.5 146.9,241.3C149.4,244.1 153.1,246.2 155.3,247.2C157.6,248.2 158.7,247.9 160.4,247.2C162.1,246.5 163.3,243.2 165.5,243.0C167.7,242.8 170.1,245.4 173.4,246.3C176.8,247.2 182.2,246.1 185.6,248.7C188.9,251.3 190.9,256.4 193.5,262.0C196.1,267.6 198.8,276.4 201.0,282.3C203.2,288.2 204.3,290.5 206.4,297.5C208.5,304.5 211.5,317.8 213.7,324.5C215.9,331.2 216.8,333.8 219.6,338.0C222.4,342.2 227.2,346.1 230.5,349.9C233.8,353.7 236.9,358.1 239.3,360.8C241.7,363.5 243.0,364.6 245.0,365.9C247.0,367.2 249.0,367.3 251.4,368.4C253.8,369.5 256.0,370.0 259.5,372.7C263.0,375.4 268.9,383.1 272.4,384.5C275.9,385.9 277.8,382.3 280.5,381.0C283.2,379.7 285.7,375.5 288.4,376.9C291.1,378.3 293.7,385.2 296.5,389.6C299.3,394.0 302.5,396.1 305.3,403.0C308.1,409.9 311.4,426.1 313.4,431.0C315.4,435.9 315.5,434.5 317.5,432.7C319.5,430.9 322.7,425.8 325.4,420.0C328.1,414.2 331.0,402.9 333.6,398.0C336.2,393.1 338.9,391.5 341.3,390.4C343.7,389.3 345.1,393.8 348.0,391.3C350.9,388.8 355.8,378.3 358.6,375.2C361.4,372.1 362.8,372.3 365.0,372.7C367.2,373.1 369.3,374.3 371.8,377.7C374.3,381.1 377.6,389.0 380.2,393.0C382.8,397.0 385.0,401.3 387.5,401.9C390.0,402.4 392.9,397.4 395.4,396.3C397.8,395.2 399.7,396.9 402.2,395.5C404.7,394.1 407.0,394.7 410.6,387.9C414.2,381.1 419.8,362.9 424.1,354.9C428.4,346.9 433.7,343.1 436.5,339.7C439.3,336.3 439.5,337.4 441.0,334.5C442.5,331.6 443.4,325.9 445.4,322.0C447.4,318.1 450.2,313.3 452.9,311.0C455.6,308.7 458.4,308.2 461.5,308.0C464.6,307.8 468.7,309.9 471.5,310.0C474.3,310.1 477.0,308.6 478.4,308.6C479.8,308.6 478.7,309.2 480.0,310.0C481.3,310.8 483.6,314.2 486.4,313.4C489.2,312.6 494.3,306.3 497.0,305.0C499.7,303.7 500.8,305.1 502.5,305.8C504.2,306.5 504.8,308.4 507.0,309.2C509.2,310.0 512.4,309.7 515.5,310.8C518.6,311.9 522.2,313.1 525.6,315.9C529.0,318.7 532.1,322.5 535.8,327.7C539.5,332.9 544.0,341.6 547.6,347.2C551.2,352.8 555.5,358.5 557.7,361.5C559.9,364.5 559.6,364.7 561.0,365.0C562.4,365.3 564.5,364.3 566.2,363.2C567.9,362.1 569.4,358.8 571.3,358.2C573.2,357.6 575.2,360.5 577.5,359.9C579.8,359.3 582.1,357.9 584.8,354.8C587.5,351.7 590.8,345.0 593.6,341.3C596.4,337.6 599.5,334.4 601.5,332.8C603.5,331.2 603.6,331.6 605.9,332.0C608.2,332.4 611.1,334.9 615.2,335.3C619.3,335.7 626.5,334.1 630.4,334.5C634.3,334.9 636.3,337.3 638.5,337.9C640.7,338.5 641.6,335.9 643.4,337.9C645.1,339.9 647.0,345.2 649.0,349.7C651.0,354.2 653.2,360.6 655.6,365.0C658.0,369.4 660.2,373.1 663.5,375.9C666.8,378.7 672.3,380.1 675.5,381.8C678.7,383.5 680.0,385.7 682.8,386.0C685.6,386.3 688.8,383.8 692.4,383.5C696.0,383.2 701.1,383.8 704.6,384.4C708.1,385.0 710.8,385.8 713.4,386.9C716.0,388.0 717.5,388.8 720.0,391.0C722.5,393.2 725.6,397.7 728.5,399.9C731.4,402.1 734.7,400.5 737.5,404.0C740.3,407.5 743.2,415.9 745.4,421.0C747.6,426.1 748.0,428.3 750.5,434.5C753.0,440.7 757.2,451.1 760.6,458.2C764.0,465.2 768.3,472.4 770.8,476.8C773.3,481.2 773.7,482.6 775.8,484.4C777.9,486.2 780.1,487.1 783.4,487.7C786.7,488.2 791.4,488.2 795.4,487.7C799.4,487.1 804.1,484.8 807.6,484.4C811.1,484.0 813.2,484.3 816.4,485.2C819.5,486.1 823.8,489.5 826.5,490.0C829.2,490.5 829.6,488.2 832.6,488.3C835.6,488.4 841.1,488.6 844.6,490.3C848.1,492.0 850.8,494.8 853.6,498.7C856.4,502.6 858.9,509.2 861.5,513.9C864.1,518.5 866.8,522.5 869.5,526.6C872.2,530.7 874.8,535.3 877.6,538.4C880.4,541.5 883.8,542.9 886.5,545.2C889.2,547.5 891.6,551.7 894.0,552.0C896.4,552.3 898.1,548.7 900.9,546.9C903.6,545.1 908.2,542.5 910.5,541.0C912.8,539.5 913.1,539.1 914.6,537.6C916.1,536.1 917.4,533.1 919.5,531.7C921.6,530.3 925.4,529.9 927.4,529.0C929.4,528.1 929.5,527.4 931.5,526.6C933.5,525.8 936.9,525.7 939.6,524.0C942.3,522.3 945.8,517.8 947.5,516.5C949.2,515.2 948.5,516.9 950.0,516.3C951.5,515.6 954.0,512.6 956.4,512.6C958.8,512.6 961.8,514.3 964.5,516.3C967.2,518.3 969.8,522.1 972.5,524.8C975.2,527.5 977.8,531.5 980.6,532.4C983.4,533.2 986.7,530.6 989.5,529.9C992.3,529.2 994.8,530.3 997.5,528.0C1000.2,525.7 1003.6,519.1 1005.6,516.3C1007.6,513.5 1007.5,513.3 1009.5,511.3C1011.5,509.3 1014.8,506.9 1017.6,504.5C1020.4,502.1 1023.6,498.7 1026.4,496.9C1029.2,495.1 1031.8,494.8 1034.5,493.9C1037.2,493.0 1039.9,492.7 1042.6,491.8C1045.3,490.9 1047.9,488.8 1050.7,488.4C1053.5,488.0 1056.7,489.1 1059.5,489.3C1062.3,489.5 1064.9,490.0 1067.6,489.3C1070.3,488.6 1072.9,486.1 1075.6,485.0C1078.3,483.9 1080.9,483.2 1083.7,482.5C1086.5,481.8 1089.7,481.6 1092.5,480.8C1095.3,480.0 1097.7,478.1 1100.4,477.5C1103.1,476.9 1105.8,478.6 1108.5,477.5C1111.2,476.4 1114.4,473.1 1116.6,470.7C1118.8,468.3 1119.3,465.7 1121.5,463.0C1123.7,460.3 1126.8,456.7 1129.5,454.6C1132.2,452.5 1134.9,451.9 1137.6,450.4C1140.3,448.9 1142.7,447.1 1145.5,445.4C1148.3,443.7 1151.7,442.1 1154.5,440.3C1157.3,438.5 1160.4,435.9 1162.4,434.4C1164.4,432.9 1165.2,431.5 1166.5,431.5C1167.8,431.5 1169.2,433.5 1170.5,434.4C1171.8,435.2 1173.9,436.2 1174.6,436.6" fill="none" stroke="#ffeb3b" stroke-width="2" stroke-linejoin="round" stroke-linecap="round" />
<path d="M10.0,410.5C11.1,408.6 13.1,404.2 16.8,398.9C20.5,393.6 26.7,386.6 32.0,378.6C37.4,370.6 42.7,359.4 48.9,350.7C55.1,342.0 63.6,333.5 69.2,326.2C74.8,318.9 78.5,311.7 82.7,306.8C86.9,301.9 91.0,299.3 94.5,296.6C98.0,293.9 100.7,292.8 103.5,290.7C106.3,288.6 106.7,285.9 111.4,283.9C116.1,281.9 126.9,279.9 131.7,278.5C136.5,277.1 137.3,276.1 140.1,275.5C142.9,274.9 145.9,276.2 148.6,275.2C151.3,274.2 153.7,272.0 156.5,269.6C159.3,267.2 162.0,264.5 165.5,261.0C169.0,257.5 174.7,251.1 177.5,248.5C180.3,245.9 180.4,247.0 182.4,245.5C184.4,244.0 187.2,240.9 189.5,239.6C191.8,238.3 193.4,237.9 195.9,237.9C198.4,237.9 202.4,239.1 204.4,239.6C206.4,240.1 205.2,239.2 207.7,240.8C210.2,242.4 215.9,246.4 219.6,248.9C223.3,251.4 225.5,252.3 229.7,256.0C233.9,259.7 240.5,267.4 245.0,271.3C249.5,275.2 251.7,274.9 256.8,279.7C261.9,284.5 267.4,290.6 275.4,300.0C283.4,309.4 298.2,327.2 305.0,336.3C311.8,345.4 312.6,350.7 316.0,354.9C319.4,359.1 322.5,360.4 325.4,361.7C328.3,363.0 330.1,361.5 333.6,362.9C337.1,364.3 342.2,368.3 346.4,370.0C350.6,371.7 354.4,371.2 358.6,373.0C362.8,374.8 367.2,377.4 371.4,381.0C375.6,384.6 380.2,391.4 383.6,394.6C387.0,397.8 388.4,398.6 391.5,400.0C394.6,401.4 398.7,402.9 402.2,402.8C405.7,402.8 408.8,402.1 412.5,399.7C416.2,397.3 420.0,391.8 424.5,388.7C429.0,385.6 434.7,383.8 439.4,381.0C444.1,378.2 446.4,375.5 452.9,371.8C459.4,368.1 473.9,361.1 478.4,359.0C482.9,356.9 477.5,359.7 480.0,359.0C482.5,358.3 489.3,356.6 493.5,354.8C497.7,353.0 501.7,350.8 505.4,348.0C509.1,345.2 512.5,340.6 515.5,337.9C518.5,335.2 520.9,333.0 523.4,332.0C525.9,331.0 527.5,331.4 530.7,332.0C533.9,332.6 538.8,335.0 542.5,335.9C546.2,336.8 549.3,336.8 552.7,337.5C556.1,338.2 559.5,340.0 562.8,340.4C566.1,340.8 569.5,340.3 572.6,339.6C575.7,338.9 578.2,338.0 581.4,336.2C584.5,334.4 587.8,330.7 591.5,328.6C595.2,326.5 599.4,324.5 603.4,323.5C607.4,322.5 611.6,322.6 615.2,322.7C618.9,322.8 620.8,323.4 625.3,324.4C629.8,325.4 638.2,326.9 642.2,328.6C646.2,330.3 646.1,332.0 649.0,334.5C651.9,337.0 655.8,341.3 659.5,343.8C663.2,346.3 666.8,347.7 671.0,349.7C675.2,351.7 680.9,354.3 684.5,355.6C688.1,356.9 689.0,356.0 692.4,357.3C695.8,358.6 700.8,361.6 704.6,363.2C708.4,364.8 711.0,365.0 715.0,366.9C719.0,368.8 724.0,372.2 728.5,374.5C733.0,376.8 735.8,377.2 742.0,380.4C748.2,383.6 759.5,389.5 765.7,393.9C771.9,398.3 775.5,403.6 779.2,406.6C782.9,409.6 784.3,408.9 787.7,411.7C791.1,414.5 795.6,420.0 799.5,423.5C803.4,427.0 807.8,430.3 811.3,432.8C814.8,435.3 816.3,435.5 820.5,438.7C824.7,441.9 831.8,448.2 836.7,452.2C841.7,456.1 846.3,459.7 850.2,462.4C854.1,465.1 855.8,464.8 860.3,468.3C864.8,471.8 872.7,479.7 877.2,483.5C881.7,487.3 884.5,488.3 887.4,491.0C890.3,493.7 892.0,497.1 894.5,499.6C897.0,502.2 899.2,504.1 902.6,506.3C906.0,508.5 910.5,511.1 914.6,513.0C918.7,515.0 923.2,516.4 927.4,518.0C931.6,519.6 936.2,521.8 939.6,522.7C943.0,523.7 945.8,523.7 947.5,523.7C949.2,523.8 947.9,523.4 950.0,523.0C952.1,522.6 954.4,521.4 960.0,521.4C965.6,521.4 977.0,522.6 983.8,523.0C990.6,523.4 995.1,523.9 1000.7,524.0C1006.3,524.1 1012.0,523.9 1017.6,523.4C1023.2,522.9 1028.9,521.6 1034.5,521.0C1040.1,520.4 1046.3,520.5 1051.4,519.7C1056.5,518.9 1059.4,518.7 1065.0,516.3C1070.6,513.9 1079.0,508.7 1085.2,505.3C1091.4,501.9 1097.4,498.0 1102.0,496.0C1106.6,494.0 1108.0,495.2 1112.6,493.5C1117.2,491.8 1124.0,488.2 1129.5,485.9C1135.0,483.6 1140.7,481.3 1145.5,479.5C1150.3,477.7 1153.8,476.8 1158.4,475.0C1163.0,473.2 1170.6,469.8 1173.0,468.7" fill="none" stroke="#4caf50" stroke-width="1.8" stroke-linejoin="round" stroke-linecap="round" />
<g shape-rendering="crispEdges"><path d="M12.5,256 V339M16.5,215 V268M24.5,213 V259M33.5,190 V227M37.5,195 V227M45.5,219 V265M53.5,210 V249M57.5,188 V221M61.5,157 V209M66.5,140 V176M74.5,108 V169M78.5,99 V124M82.5,97 V128M94.5,191 V231M103.5,202 V237M107.5,176 V214M119.5,224 V251M132.5,224 V269M136.5,231 V291M148.5,292 V320M152.5,262 V327M156.5,264 V292M160.5,242 V264M165.5,178 V254M177.5,235 V276M206.5,379 V411M218.5,416 V506M222.5,391 V456M230.5,370 V441M239.5,391 V478M243.5,369 V416M251.5,373 V401M272.5,414 V447M276.5,363 V407M284.5,350 V378M288.5,327 V362M317.5,432 V651M321.5,385 V494M325.5,262 V385M329.5,309 V411M333.5,218 V336M350.5,362 V400M354.5,317 V366M387.5,423 V496M391.5,368 V450M395.5,345 V394M408.5,329 V406M412.5,329 V360M416.5,281 V326M424.5,244 V300M432.5,271 V333M436.5,232 V301M441.5,255 V310M445.5,207 V265M461.5,268 V305M474.5,286 V322M478.5,284 V324M486.5,326 V375M490.5,261 V342M511.5,299 V377M515.5,291 V326M523.5,320 V361M548.5,391 V424M556.5,401 V456M560.5,382 V421M564.5,349 V418M568.5,328 V374M572.5,307 V340M581.5,342 V374M585.5,312 V363M589.5,300 V326M593.5,274 V325M618.5,330 V355M622.5,304 V337M630.5,316 V346M638.5,339 V377M643.5,338 V370M655.5,432 V457M659.5,399 V441M663.5,413 V436M667.5,394 V422M675.5,376 V420M684.5,389 V446M688.5,368 V406M692.5,355 V394M704.5,359 V394M713.5,390 V409M729.5,422 V444M733.5,383 V421M754.5,515 V549M766.5,521 V558M778.5,514 V580M783.5,487 V547M787.5,482 V507M791.5,478 V497M799.5,478 V511M803.5,449 V489M816.5,473 V507M828.5,494 V524M832.5,468 V490M844.5,478 V506M865.5,564 V617M882.5,570 V610M886.5,562 V597M898.5,522 V592M902.5,501 V537M910.5,498 V523M919.5,471 V540M927.5,503 V532M931.5,481 V513M939.5,496 V528M943.5,478 V533M956.5,485 V511M980.5,553 V600M985.5,513 V557M989.5,501 V523M997.5,503 V528M1001.5,484 V515M1005.5,453 V492M1009.5,453 V485M1022.5,449 V481M1034.5,459 V484M1042.5,475 V494M1046.5,464 V477M1050.5,447 V486M1067.5,484 V508M1071.5,466 V508M1075.5,450 V478M1083.5,451 V472M1092.5,456 V491M1096.5,441 V473M1100.5,444 V467M1112.5,464 V489M1116.5,428 V471M1121.5,380 V418M1129.5,402 V427M1141.5,418 V444M1145.5,403 V432M1153.5,400 V430M1158.5,397 V441M1166.5,394 V409" stroke="#089981" stroke-width="1" fill="none"/><path d="M20.5,231 V277M29.5,196 V223M41.5,196 V250M49.5,213 V259M70.5,161 V188M86.5,108 V191M90.5,160 V219M99.5,217 V251M111.5,178 V209M115.5,212 V270M123.5,218 V262M127.5,243 V276M140.5,213 V264M144.5,253 V327M169.5,201 V259M173.5,243 V300M181.5,226 V250M185.5,248 V274M189.5,264 V324M193.5,295 V334M197.5,331 V396M202.5,364 V419M210.5,401 V451M214.5,409 V480M226.5,361 V407M235.5,389 V448M247.5,355 V411M255.5,368 V413M259.5,364 V406M263.5,373 V422M268.5,417 V464M280.5,346 V387M292.5,352 V418M296.5,413 V458M300.5,438 V490M305.5,426 V503M309.5,511 V573M313.5,548 V667M338.5,275 V351M342.5,323 V382M346.5,356 V409M358.5,305 V345M362.5,328 V412M366.5,345 V384M371.5,369 V427M375.5,390 V446M379.5,419 V470M383.5,433 V489M399.5,340 V389M404.5,366 V410M420.5,266 V312M428.5,242 V310M449.5,197 V253M453.5,246 V299M457.5,266 V311M465.5,247 V317M469.5,303 V335M482.5,288 V358M494.5,259 V286M498.5,275 V304M502.5,266 V324M507.5,316 V361M519.5,300 V339M527.5,303 V349M531.5,323 V393M535.5,346 V396M539.5,365 V401M544.5,391 V424M552.5,393 V435M577.5,315 V367M597.5,272 V306M601.5,273 V310M605.5,297 V319M610.5,311 V356M614.5,330 V369M626.5,311 V338M634.5,316 V375M647.5,319 V447M651.5,413 V453M671.5,395 V414M680.5,386 V432M696.5,359 V387M700.5,373 V401M708.5,364 V422M717.5,380 V416M721.5,394 V428M725.5,417 V446M737.5,387 V446M741.5,434 V475M746.5,468 V534M750.5,509 V550M758.5,514 V558M762.5,530 V577M770.5,519 V555M774.5,535 V561M795.5,480 V508M807.5,450 V477M811.5,468 V488M820.5,468 V518M824.5,495 V521M836.5,462 V502M840.5,488 V512M849.5,485 V554M853.5,532 V576M857.5,544 V570M861.5,542 V596M869.5,558 V587M873.5,581 V609M877.5,589 V617M890.5,548 V590M894.5,569 V594M906.5,501 V525M914.5,502 V524M923.5,477 V524M935.5,514 V539M947.5,474 V501M952.5,483 V521M960.5,468 V521M964.5,509 V552M968.5,530 V557M972.5,545 V583M976.5,548 V581M993.5,518 V543M1013.5,443 V487M1017.5,474 V511M1026.5,456 V479M1030.5,449 V485M1038.5,481 V506M1055.5,466 V491M1059.5,476 V504M1063.5,490 V508M1079.5,451 V481M1088.5,466 V496M1104.5,448 V474M1108.5,458 V492M1125.5,388 V422M1133.5,409 V432M1137.5,430 V448M1149.5,405 V433M1162.5,388 V409M1170.5,398 V461M1174.5,456 V475" stroke="#f23645" stroke-width="1" fill="none"/><path d="M11,258 h3 v76 h-3zM15,231 h3 v32 h-3zM23,218 h3 v35 h-3zM32,213 h3 v9 h-3zM36,196 h3 v24 h-3zM44,227 h3 v34 h-3zM52,211 h3 v33 h-3zM56,196 h3 v4 h-3zM60,165 h3 v31 h-3zM65,160 h3 v8 h-3zM73,122 h3 v47 h-3zM77,103 h3 v5 h-3zM81,105 h3 v15 h-3zM93,199 h3 v4 h-3zM102,205 h3 v12 h-3zM106,186 h3 v24 h-3zM118,236 h3 v12 h-3zM131,244 h3 v12 h-3zM135,235 h3 v5 h-3zM147,306 h3 v7 h-3zM151,273 h3 v34 h-3zM155,268 h3 v11 h-3zM159,247 h3 v16 h-3zM164,197 h3 v50 h-3zM176,239 h3 v36 h-3zM205,406 h3 v3 h-3zM217,422 h3 v64 h-3zM221,399 h3 v32 h-3zM229,384 h3 v16 h-3zM238,397 h3 v52 h-3zM242,377 h3 v28 h-3zM250,375 h3 v26 h-3zM271,417 h3 v11 h-3zM275,364 h3 v43 h-3zM283,355 h3 v16 h-3zM287,351 h3 v11 h-3zM316,446 h3 v197 h-3zM320,393 h3 v63 h-3zM324,355 h3 v16 h-3zM328,313 h3 v64 h-3zM332,271 h3 v14 h-3zM349,367 h3 v27 h-3zM353,317 h3 v45 h-3zM386,438 h3 v23 h-3zM390,382 h3 v60 h-3zM394,358 h3 v22 h-3zM407,339 h3 v64 h-3zM411,338 h3 v2 h-3zM415,285 h3 v36 h-3zM423,245 h3 v37 h-3zM431,301 h3 v6 h-3zM435,282 h3 v18 h-3zM440,278 h3 v18 h-3zM444,214 h3 v46 h-3zM460,284 h3 v13 h-3zM473,303 h3 v15 h-3zM477,293 h3 v7 h-3zM485,333 h3 v17 h-3zM489,264 h3 v67 h-3zM510,322 h3 v47 h-3zM514,298 h3 v19 h-3zM522,330 h3 v4 h-3zM547,402 h3 v15 h-3zM555,422 h3 v6 h-3zM559,397 h3 v24 h-3zM563,358 h3 v51 h-3zM567,337 h3 v34 h-3zM571,326 h3 v12 h-3zM580,357 h3 v9 h-3zM584,317 h3 v39 h-3zM588,306 h3 v10 h-3zM592,274 h3 v36 h-3zM617,337 h3 v14 h-3zM621,327 h3 v10 h-3zM629,319 h3 v8 h-3zM637,344 h3 v30 h-3zM642,338 h3 v9 h-3zM654,443 h3 v14 h-3zM658,428 h3 v10 h-3zM662,419 h3 v4 h-3zM666,396 h3 v22 h-3zM674,394 h3 v2 h-3zM683,394 h3 v32 h-3zM687,374 h3 v22 h-3zM691,366 h3 v10 h-3zM703,370 h3 v21 h-3zM712,401 h3 v6 h-3zM728,428 h3 v14 h-3zM732,408 h3 v6 h-3zM753,520 h3 v29 h-3zM765,531 h3 v25 h-3zM777,519 h3 v39 h-3zM782,504 h3 v21 h-3zM786,490 h3 v15 h-3zM790,481 h3 v7 h-3zM798,480 h3 v30 h-3zM802,463 h3 v23 h-3zM815,477 h3 v7 h-3zM827,497 h3 v22 h-3zM831,474 h3 v11 h-3zM843,484 h3 v19 h-3zM864,568 h3 v35 h-3zM881,573 h3 v37 h-3zM885,572 h3 v2 h-3zM897,525 h3 v66 h-3zM901,513 h3 v13 h-3zM909,506 h3 v5 h-3zM918,472 h3 v50 h-3zM926,515 h3 v1 h-3zM930,492 h3 v7 h-3zM938,501 h3 v23 h-3zM942,480 h3 v18 h-3zM955,486 h3 v17 h-3zM979,564 h3 v7 h-3zM984,517 h3 v38 h-3zM988,517 h3 v1 h-3zM996,511 h3 v16 h-3zM1000,486 h3 v26 h-3zM1004,467 h3 v23 h-3zM1008,454 h3 v16 h-3zM1021,457 h3 v23 h-3zM1033,478 h3 v2 h-3zM1041,480 h3 v14 h-3zM1045,470 h3 v7 h-3zM1049,469 h3 v1 h-3zM1066,494 h3 v14 h-3zM1070,471 h3 v21 h-3zM1074,451 h3 v4 h-3zM1082,467 h3 v4 h-3zM1091,469 h3 v9 h-3zM1095,466 h3 v2 h-3zM1099,454 h3 v4 h-3zM1111,466 h3 v23 h-3zM1115,431 h3 v39 h-3zM1120,390 h3 v23 h-3zM1128,417 h3 v6 h-3zM1140,419 h3 v18 h-3zM1144,419 h3 v8 h-3zM1152,420 h3 v5 h-3zM1157,399 h3 v21 h-3zM1165,400 h3 v6 h-3z" fill="#089981"/><path d="M19,238 h3 v15 h-3zM28,221 h3 v1 h-3zM40,197 h3 v53 h-3zM48,228 h3 v6 h-3zM69,162 h3 v4 h-3zM85,109 h3 v74 h-3zM89,179 h3 v27 h-3zM98,227 h3 v13 h-3zM110,188 h3 v15 h-3zM114,214 h3 v36 h-3zM122,248 h3 v4 h-3zM126,244 h3 v15 h-3zM139,232 h3 v31 h-3zM143,255 h3 v59 h-3zM168,202 h3 v48 h-3zM172,249 h3 v34 h-3zM180,236 h3 v13 h-3zM184,250 h3 v15 h-3zM188,265 h3 v45 h-3zM192,300 h3 v28 h-3zM196,331 h3 v58 h-3zM201,395 h3 v20 h-3zM209,411 h3 v36 h-3zM213,421 h3 v54 h-3zM225,386 h3 v15 h-3zM234,407 h3 v30 h-3zM246,379 h3 v27 h-3zM254,388 h3 v2 h-3zM258,387 h3 v10 h-3zM262,391 h3 v29 h-3zM267,423 h3 v1 h-3zM279,366 h3 v12 h-3zM291,355 h3 v63 h-3zM295,441 h3 v6 h-3zM299,439 h3 v33 h-3zM304,452 h3 v43 h-3zM308,535 h3 v16 h-3zM312,550 h3 v26 h-3zM337,281 h3 v57 h-3zM341,334 h3 v31 h-3zM345,374 h3 v26 h-3zM357,324 h3 v4 h-3zM361,336 h3 v18 h-3zM365,349 h3 v30 h-3zM370,374 h3 v41 h-3zM374,423 h3 v22 h-3zM378,437 h3 v29 h-3zM382,468 h3 v2 h-3zM398,359 h3 v30 h-3zM403,375 h3 v32 h-3zM419,286 h3 v7 h-3zM427,243 h3 v67 h-3zM448,210 h3 v43 h-3zM452,250 h3 v15 h-3zM456,270 h3 v30 h-3zM464,264 h3 v49 h-3zM468,312 h3 v18 h-3zM481,300 h3 v53 h-3zM493,263 h3 v21 h-3zM497,281 h3 v4 h-3zM501,290 h3 v27 h-3zM506,319 h3 v30 h-3zM518,310 h3 v26 h-3zM526,333 h3 v9 h-3zM530,337 h3 v26 h-3zM534,356 h3 v34 h-3zM538,389 h3 v5 h-3zM543,400 h3 v21 h-3zM551,399 h3 v30 h-3zM576,323 h3 v44 h-3zM596,272 h3 v22 h-3zM600,288 h3 v8 h-3zM604,302 h3 v15 h-3zM609,312 h3 v28 h-3zM613,339 h3 v20 h-3zM625,327 h3 v10 h-3zM633,323 h3 v51 h-3zM646,342 h3 v97 h-3zM650,437 h3 v16 h-3zM670,400 h3 v4 h-3zM679,387 h3 v40 h-3zM695,368 h3 v15 h-3zM699,382 h3 v12 h-3zM707,373 h3 v42 h-3zM716,408 h3 v1 h-3zM720,406 h3 v20 h-3zM724,426 h3 v20 h-3zM736,403 h3 v36 h-3zM740,439 h3 v34 h-3zM745,475 h3 v52 h-3zM749,514 h3 v35 h-3zM757,516 h3 v31 h-3zM761,541 h3 v18 h-3zM769,525 h3 v26 h-3zM773,551 h3 v4 h-3zM794,485 h3 v23 h-3zM806,462 h3 v3 h-3zM810,468 h3 v18 h-3zM819,474 h3 v38 h-3zM823,514 h3 v7 h-3zM835,472 h3 v24 h-3zM839,488 h3 v9 h-3zM848,488 h3 v50 h-3zM852,534 h3 v21 h-3zM856,557 h3 v1 h-3zM860,557 h3 v35 h-3zM868,566 h3 v21 h-3zM872,588 h3 v11 h-3zM876,603 h3 v3 h-3zM889,557 h3 v27 h-3zM893,586 h3 v4 h-3zM905,510 h3 v14 h-3zM913,506 h3 v16 h-3zM922,477 h3 v43 h-3zM934,525 h3 v9 h-3zM946,479 h3 v8 h-3zM951,484 h3 v17 h-3zM959,482 h3 v39 h-3zM963,514 h3 v19 h-3zM967,537 h3 v19 h-3zM971,556 h3 v20 h-3zM975,570 h3 v11 h-3zM992,520 h3 v15 h-3zM1012,457 h3 v20 h-3zM1016,477 h3 v11 h-3zM1025,459 h3 v4 h-3zM1029,467 h3 v15 h-3zM1037,486 h3 v11 h-3zM1054,474 h3 v16 h-3zM1058,486 h3 v6 h-3zM1062,492 h3 v12 h-3zM1078,454 h3 v23 h-3zM1087,469 h3 v11 h-3zM1103,464 h3 v1 h-3zM1107,462 h3 v26 h-3zM1124,395 h3 v25 h-3zM1132,418 h3 v12 h-3zM1136,440 h3 v1 h-3zM1148,424 h3 v5 h-3zM1161,402 h3 v6 h-3zM1169,399 h3 v58 h-3zM1173,458 h3 v11 h-3z" fill="#f23645"/></g>
</g>
<path d="M11,724.5 H1416" stroke="#2a2e39" stroke-width="1.2"/>
<g clip-path="url(#cr)">
<rect x="11" y="752" width="1349" height="89" fill="#0d0a18"/>
<path d="M69.5,751.2L73.5,741.9L77.6,738.5L82.5,738.2L83.5,750.4 L83.5,751.5 L69.5,751.5 Z" fill="#08170d"/>
<path d="M11,751.5 H1360" stroke="#8a8d96" stroke-width="1" stroke-dasharray="4.8 6.111" stroke-dashoffset="-2.4" fill="none"/><path d="M11,796.5 H1360" stroke="#50535e" stroke-width="1" stroke-dasharray="4.8 6.111" stroke-dashoffset="-2.4" fill="none"/><path d="M11,841.5 H1360" stroke="#8a8d96" stroke-width="1" stroke-dasharray="4.8 6.111" stroke-dashoffset="-2.4" fill="none"/>
<path d="M10.0,761.3L11.7,752.0L15.9,747.8L20.1,757.1L23.5,751.2L26.9,750.7L32.5,751.5L36.5,746.1L37.9,750.4L40.6,771.0L44.6,765.6L48.9,768.1L53.4,762.2L57.5,758.0L61.5,750.9L65.6,750.0L69.5,751.2L73.5,741.9L77.6,738.5L82.5,738.2L83.5,750.4L85.5,777.4L89.4,787.2L93.7,785.5L99.1,795.6L106.7,782.1L111.1,789.2L114.8,805.3L119.9,805.3L123.6,806.1L127.0,808.3L131.5,802.7L135.9,799.4L139.6,808.7L144.0,826.4L148.2,822.2L152.0,807.8L156.5,804.4L160.4,794.0L164.8,777.4L168.9,797.7L173.1,808.2L176.8,793.4L181.5,796.8L185.8,802.7L188.8,814.6L193.2,819.6L196.8,832.3L201.8,837.9L205.7,835.7L209.4,841.6L214.2,847.0L217.9,828.1L221.6,819.6L225.5,819.6L229.7,813.2L234.8,826.1L239.0,812.9L243.2,805.8L247.4,812.9L251.4,803.1L255.5,806.5L259.5,809.2L263.6,815.4L267.5,816.3L271.5,814.6L275.6,794.3L279.6,798.5L284.2,790.6L288.4,789.2L291.5,811.2L295.7,818.0L300.6,826.4L305.0,831.1L308.9,841.6L313.1,845.5L315.1,819.6L316.8,803.6L320.5,791.8L324.8,785.0L328.7,775.4L332.9,765.9L337.1,782.5L341.7,790.6L346.1,798.5L349.8,790.9L354.0,780.8L358.2,783.3L362.5,785.8L366.5,796.8L370.9,804.4L375.1,811.2L379.0,815.4L383.2,816.3L387.0,807.8L391.5,792.6L395.1,786.2L399.5,794.3L403.9,799.4L408.1,782.8L412.3,782.5L416.0,770.6L419.9,770.3L423.8,762.5L427.9,782.8L431.8,781.1L436.5,779.9L441.0,774.9L445.1,761.3L449.2,774.0L452.9,777.4L457.1,789.2L461.0,785.0L465.6,793.4L469.4,798.5L474.0,791.2L478.2,788.4L482.1,805.3L486.4,798.5L490.1,781.1L494.5,786.7L498.6,788.4L502.5,797.7L507.0,805.8L511.4,797.7L515.0,790.9L518.9,801.9L523.4,801.4L527.5,804.4L531.5,810.9L534.9,817.1L539.2,817.6L543.9,825.1L548.1,817.6L552.2,824.7L556.4,821.7L560.4,809.5L564.0,796.8L567.9,789.6L572.1,785.3L576.7,800.2L581.1,796.8L584.8,784.2L589.0,779.4L592.9,770.3L597.5,778.2L601.5,779.9L605.9,790.1L610.1,798.0L614.0,804.4L618.2,796.0L622.0,792.3L626.5,796.0L630.4,790.1L633.8,809.5L638.0,798.5L643.1,796.0L646.8,825.6L651.0,828.4L654.9,825.1L658.8,819.3L663.2,814.6L666.8,805.8L671.5,807.5L675.5,804.1L680.1,815.9L684.2,801.9L687.9,794.3L692.1,791.2L696.0,796.8L700.2,801.9L704.1,792.3L708.2,809.2L712.9,804.8L717.1,807.0L717.4,807.0L721.4,813.7L725.1,819.3L729.5,809.5L733.3,802.4L737.5,814.6L741.5,826.4L745.6,836.9L749.6,841.3L754.2,828.9L758.4,834.9L762.5,837.4L766.2,825.6L770.6,830.1L774.5,831.1L778.0,815.4L782.6,809.5L787.2,802.7L791.4,799.4L795.1,808.7L799.0,797.7L802.9,791.2L807.1,791.8L811.3,800.2L816.1,796.8L819.8,810.3L824.0,813.7L827.9,802.7L832.0,793.1L836.5,801.9L840.6,801.9L844.3,796.3L849.0,816.3L853.2,822.2L857.0,823.0L861.2,833.2L865.1,821.7L869.5,827.2L873.5,830.6L877.2,832.7L881.8,815.4L886.0,815.4L889.9,819.3L893.8,821.3L898.2,790.1L902.1,785.5L906.1,790.1L910.2,783.3L914.1,790.6L919.2,772.7L922.9,792.6L927.1,791.2L931.0,785.0L935.2,799.0L939.1,787.5L943.2,780.4L947.9,783.3L952.1,788.9L952.4,788.9L956.1,783.8L960.1,797.7L964.5,803.1L968.3,810.3L972.5,817.6L976.2,819.3L980.6,810.3L984.6,791.2L989.2,791.2L993.1,798.5L997.5,787.9L1001.2,779.4L1004.9,773.2L1009.2,768.6L1013.0,779.4L1017.3,779.9L1022.2,772.7L1026.4,775.4L1030.4,785.5L1034.0,786.2L1037.9,794.0L1042.1,786.2L1046.3,782.1L1050.1,782.5L1054.8,792.9L1059.0,794.3L1062.9,801.4L1067.0,796.0L1071.5,781.6L1075.1,773.7L1079.3,789.2L1083.3,784.5L1088.2,791.8L1092.0,785.8L1096.2,785.0L1100.1,779.9L1104.5,784.5L1108.0,799.4L1112.2,784.2L1116.8,768.6L1121.0,755.4L1124.9,773.7L1128.8,772.7L1133.2,779.4L1136.8,785.8L1141.1,777.1L1145.2,776.5L1149.1,782.1L1153.3,780.4L1157.9,768.6L1162.1,774.0L1166.0,771.0L1169.7,803.1L1173.9,804.4" fill="none" stroke="#7e57c2" stroke-width="1.1" stroke-linejoin="round" stroke-linecap="round" />
<path d="M10.0,795.1C11.4,793.6 15.4,788.9 18.5,785.8C21.5,782.7 25.5,779.8 28.6,776.5C31.7,773.3 33.9,769.0 37.0,766.4C40.1,763.8 43.8,762.3 47.2,760.8C50.6,759.3 54.4,758.3 57.5,757.4C60.6,756.6 63.1,756.2 65.8,755.8C68.4,755.4 70.9,755.5 73.5,755.1C76.2,754.7 79.5,753.2 81.8,753.4C84.2,753.6 85.6,755.1 87.7,756.3C89.9,757.4 91.7,759.2 94.5,760.5C97.3,761.8 101.8,763.1 104.6,764.2C107.5,765.3 108.9,765.1 111.4,766.9C113.9,768.7 117.0,772.1 119.9,774.9C122.7,777.6 125.8,780.8 128.3,783.3C130.8,785.8 132.8,787.7 135.1,790.1C137.3,792.5 139.6,795.7 141.8,797.7C144.1,799.6 146.3,800.9 148.6,801.9C150.8,802.9 152.6,803.5 155.3,803.9C158.0,804.3 161.9,804.3 164.8,804.4C167.8,804.6 170.4,804.9 173.1,804.8C175.7,804.6 178.6,803.8 180.7,803.6C182.8,803.3 183.2,802.7 185.8,803.2C188.3,803.8 192.6,806.0 195.9,807.0C199.2,807.9 202.6,807.7 205.7,809.0C208.8,810.3 211.6,812.7 214.5,814.6C217.4,816.5 220.4,819.3 222.9,820.5C225.5,821.7 227.5,821.0 229.7,821.7C232.0,822.3 234.2,823.7 236.5,824.4C238.7,825.0 241.8,825.3 243.2,825.6C244.6,825.8 243.9,826.2 245.0,826.1C246.1,825.9 247.6,825.7 250.1,824.7C252.5,823.7 256.4,821.4 259.5,820.0C262.6,818.6 266.0,817.5 268.7,816.3C271.3,815.0 273.0,813.8 275.6,812.5C278.2,811.3 282.1,809.7 284.2,808.7C286.3,807.6 287.1,807.0 288.4,806.5C289.8,805.9 291.0,805.4 292.5,805.4C294.0,805.4 295.3,805.9 297.4,806.5C299.5,807.0 302.5,807.4 305.0,808.7C307.5,809.9 310.8,812.8 312.6,813.7C314.4,814.7 314.6,814.5 316.0,814.2C317.4,814.0 318.8,813.2 321.1,812.0C323.3,810.8 327.0,808.3 329.5,807.0C332.0,805.6 334.2,804.7 336.3,804.1C338.3,803.5 339.8,803.6 341.7,803.6C343.5,803.6 345.2,804.7 347.2,804.1C349.3,803.5 351.3,802.2 354.0,800.2C356.7,798.2 360.5,794.2 363.3,792.3C366.1,790.3 368.9,789.0 370.9,788.4C372.9,787.7 373.6,788.0 375.1,788.4C376.7,788.7 378.2,789.6 380.2,790.6C382.2,791.6 385.1,793.2 387.0,794.3C388.9,795.3 389.4,796.3 391.5,796.8C393.6,797.4 396.7,797.6 399.5,797.7C402.2,797.8 405.3,797.6 408.1,797.3C410.8,797.1 414.1,796.4 416.0,796.0C418.0,795.5 417.9,795.5 419.9,794.6C421.9,793.8 425.1,792.3 427.9,790.9C430.6,789.5 433.6,788.0 436.5,786.2C439.4,784.3 442.4,781.3 445.1,779.9C447.8,778.6 450.2,778.7 452.9,778.2C455.5,777.8 458.2,777.0 461.0,777.1C463.7,777.1 466.6,778.0 469.4,778.7C472.3,779.5 476.5,780.9 478.2,781.6C480.0,782.4 478.9,782.7 480.0,783.3C481.1,784.0 482.3,784.8 485.1,785.5C487.9,786.2 493.2,786.4 496.9,787.5C500.6,788.7 504.0,791.2 507.0,792.3C510.1,793.3 511.6,793.3 515.0,794.0C518.4,794.6 524.0,795.1 527.5,796.0C531.0,796.8 533.0,798.0 535.8,799.0C538.5,800.0 541.2,800.6 543.9,801.9C546.6,803.2 549.4,805.5 552.2,807.0C554.9,808.5 557.1,810.5 560.4,810.9C563.8,811.2 568.7,809.5 572.1,809.2C575.5,808.8 578.2,809.3 581.1,808.7C583.9,808.0 586.3,806.9 589.0,805.3C591.7,803.7 594.6,801.0 597.5,799.0C600.3,797.1 603.1,794.9 605.9,793.4C608.7,792.0 611.3,790.9 614.0,790.1C616.7,789.3 619.2,788.8 622.0,788.7C624.7,788.6 627.6,789.3 630.4,789.6C633.2,789.8 636.8,789.8 638.9,790.1C641.0,790.3 641.1,789.6 643.1,790.9C645.1,792.2 648.4,795.5 651.0,797.7C653.7,799.9 656.2,802.5 658.8,804.1C661.4,805.7 664.0,806.6 666.8,807.3C669.5,808.0 672.6,807.6 675.5,808.2C678.4,808.7 681.4,810.2 684.2,810.3C686.9,810.5 689.4,809.3 692.1,809.2C694.8,809.0 697.5,810.1 700.2,809.5C702.9,808.9 705.3,806.8 708.2,805.8C711.0,804.8 715.1,804.0 717.1,803.6C719.1,803.1 718.0,802.9 720.1,803.1C722.1,803.2 726.6,804.3 729.5,804.4C732.4,804.6 735.4,803.8 737.5,804.1C739.6,804.4 740.0,804.8 742.0,806.1C744.1,807.4 746.9,810.1 749.6,812.0C752.4,814.0 756.3,816.2 758.4,817.6C760.6,819.0 761.2,819.8 762.5,820.5C763.8,821.2 764.2,820.9 766.2,821.7C768.2,822.4 772.3,824.5 774.5,825.1C776.7,825.6 777.1,825.2 779.2,825.1C781.3,824.9 784.5,824.2 787.2,823.9C789.8,823.5 793.1,823.5 795.1,823.0C797.1,822.5 797.0,822.4 799.0,821.0C801.0,819.6 804.3,816.5 807.1,814.6C810.0,812.7 814.0,810.6 816.1,809.5C818.2,808.4 818.5,808.2 819.8,807.8C821.1,807.4 822.0,807.9 824.0,807.0C826.0,806.1 829.9,803.3 832.0,802.4C834.0,801.5 834.5,801.7 836.5,801.4C838.6,801.1 841.5,800.4 844.3,800.7C847.1,801.0 850.4,801.9 853.2,803.1C856.1,804.3 858.5,806.3 861.2,807.8C863.9,809.3 867.1,810.8 869.5,812.0C871.9,813.3 873.5,814.8 875.6,815.4C877.6,816.1 880.1,815.8 881.8,815.9C883.6,816.1 884.0,815.6 886.0,816.3C888.0,816.9 891.1,819.4 893.8,819.6C896.5,819.9 899.4,818.7 902.1,817.6C904.8,816.5 907.4,815.0 910.2,813.2C913.0,811.4 916.3,808.8 919.2,807.0C922.0,805.2 924.4,804.1 927.1,802.4C929.8,800.7 932.5,798.5 935.2,796.8C937.9,795.1 940.8,793.7 943.2,792.3C945.5,790.9 947.9,789.1 949.1,788.4C950.2,787.6 948.8,788.1 950.0,787.9C951.2,787.7 953.7,787.0 956.1,787.2C958.5,787.4 961.8,788.2 964.5,789.2C967.3,790.3 970.4,792.3 972.5,793.4C974.6,794.6 975.0,795.7 977.0,796.3C979.1,797.0 982.0,797.1 984.6,797.3C987.3,797.6 990.3,797.7 993.1,797.7C995.9,797.7 998.5,797.8 1001.2,797.3C1003.9,796.9 1006.5,795.8 1009.2,795.1C1011.8,794.5 1014.4,794.6 1017.3,793.4C1020.1,792.3 1023.6,789.9 1026.4,788.4C1029.2,786.8 1031.4,785.1 1034.0,784.2C1036.6,783.2 1039.4,783.0 1042.1,782.5C1044.8,781.9 1047.2,780.8 1050.1,780.8C1052.9,780.8 1056.2,781.6 1059.0,782.5C1061.8,783.4 1064.3,785.6 1067.0,786.2C1069.6,786.8 1073.0,786.0 1075.1,786.2C1077.1,786.4 1077.1,787.2 1079.3,787.5C1081.5,787.9 1085.4,788.3 1088.2,788.4C1091.1,788.4 1093.5,788.0 1096.2,787.9C1098.9,787.8 1102.1,787.7 1104.5,787.9C1106.9,788.0 1108.5,789.2 1110.6,788.9C1112.6,788.5 1115.1,786.8 1116.8,785.8C1118.6,784.9 1119.3,784.1 1121.0,783.3C1122.8,782.5 1124.8,781.6 1127.5,781.3C1130.1,780.9 1133.8,781.4 1136.8,781.1C1139.7,780.8 1142.4,779.8 1145.2,779.4C1148.0,779.0 1150.5,779.1 1153.3,778.7C1156.1,778.3 1160.0,777.6 1162.1,777.1C1164.2,776.5 1164.7,775.5 1166.0,775.4C1167.3,775.2 1168.4,775.6 1169.7,776.2C1171.0,776.8 1173.2,778.3 1173.9,778.7" fill="none" stroke="#e6c229" stroke-width="1.2" stroke-linejoin="round" stroke-linecap="round" />
</g>
<g>
<circle cx="1174.5" cy="711.5" r="9.6" fill="#0f0f0f" stroke="#b84ad2" stroke-width="1.6"/>
<path d="M1177.3,705.9 L1170.4,712.3 L1174.2,712.3 L1171.3,717.2 L1178.7,710.8 L1174.9,710.8 Z" fill="#b84ad2"/>
<circle cx="1181.5" cy="704.6" r="4.3" fill="#000"/>
<circle cx="1181.5" cy="704.6" r="2.8" fill="#f23645"/>
</g>
<g fill="#e0e0e0">
<g transform="translate(12.2,909.2) scale(0.826)"><path d="M14 18H7V7H0V0h14v18z"/><circle cx="20.3" cy="3.9" r="3.9"/><path d="M28 18h-8l7.5-18h8L28 18z"/></g>
</g>
</svg>
<div class="t " style="left:18.3px;transform-origin:0 50%;transform:scaleX(0.9715);top:35px;"><span id="f35">Rend. bonos deuda pública EE. UU. a 10A · 1D · TVC</span></div><div class="t " style="left:305.7px;transform-origin:0 50%;transform:scaleX(0.8852);top:35px;"><span id="f36">O<span class="red">4,168%</span></span></div><div class="t " style="left:358px;transform-origin:0 50%;transform:scaleX(0.8911);top:35px;"><span id="f37">H<span class="red">4,188%</span></span></div><div class="t " style="left:410px;transform-origin:0 50%;transform:scaleX(0.8799);top:35px;"><span id="f38">L<span class="red">4,156%</span></span></div><div class="t " style="left:460px;transform-origin:0 50%;transform:scaleX(0.8790);top:35px;"><span id="f39">C<span class="red">4,184%</span></span></div><div class="t red" style="left:511.8px;transform-origin:0 50%;transform:scaleX(0.9328);top:35px;"><span id="f40">−0,004 (−0,10%)</span></div>
<div id="pct"></div><div class="t " style="left:1372.3px;transform-origin:0 50%;transform:scaleX(0.8179);top:37px;font-size:11px;color:#d0d0d0"><span id="f44">%</span></div>
<div class="t ax" style="left:1369px;transform-origin:0 50%;transform:scaleX(0.9090);top:94.30000000000001px;"><span id="f1">4,800%</span></div><div class="t ax" style="left:1369px;transform-origin:0 50%;transform:scaleX(0.9090);top:205.20000000000002px;"><span id="f2">4,600%</span></div><div class="t ax" style="left:1369px;transform-origin:0 50%;transform:scaleX(0.9090);top:261.9px;"><span id="f3">4,500%</span></div><div class="t ax" style="left:1369px;transform-origin:0 50%;transform:scaleX(0.9090);top:320.0px;"><span id="f4">4,400%</span></div><div class="t ax" style="left:1369px;transform-origin:0 50%;transform:scaleX(0.9090);top:380.2px;"><span id="f5">4,300%</span></div><div class="t ax" style="left:1369px;transform-origin:0 50%;transform:scaleX(0.9090);top:409.9px;"><span id="f6">4,250%</span></div><div class="t ax" style="left:1369px;transform-origin:0 50%;transform:scaleX(0.9090);top:440.9px;"><span id="f7">4,200%</span></div><div class="t ax" style="left:1369px;transform-origin:0 50%;transform:scaleX(0.9090);top:478.4px;"><span id="f8">4,140%</span></div><div class="t ax" style="left:1369px;transform-origin:0 50%;transform:scaleX(0.9090);top:516.4px;"><span id="f9">4,080%</span></div><div class="t ax" style="left:1369px;transform-origin:0 50%;transform:scaleX(0.9090);top:554.1px;"><span id="f10">4,020%</span></div><div class="t ax" style="left:1369px;transform-origin:0 50%;transform:scaleX(0.9090);top:593.4px;"><span id="f11">3,960%</span></div><div class="t ax" style="left:1369px;transform-origin:0 50%;transform:scaleX(0.9090);top:626.1px;"><span id="f12">3,910%</span></div><div class="t ax" style="left:1369px;transform-origin:0 50%;transform:scaleX(0.9090);top:660.4px;"><span id="f13">3,860%</span></div><div class="t ax" style="left:1369px;transform-origin:0 50%;transform:scaleX(0.9090);top:689.4px;"><span id="f14">3,815%</span></div><div style="position:absolute;left:1360px;top:725px;width:55px;height:20px;overflow:hidden"><div class="t ax" style="left:9px;transform-origin:0 50%;transform:scaleX(0.9823);top:-4.0px;"><span id="f15">80,00</span></div></div><div class="t ax" style="left:1369px;transform-origin:0 50%;transform:scaleX(0.9823);top:765.6999999999999px;"><span id="f16">60,00</span></div><div class="t ax" style="left:1369px;transform-origin:0 50%;transform:scaleX(0.9823);top:810.6999999999999px;"><span id="f17">40,00</span></div><div class="t tm b" style="left:-50.8px;width:200px;text-align:center;transform-origin:50% 50%;transform:scaleX(1.0111);top:865.5px;"><span id="f18">2025</span></div><div class="t tm" style="left:36px;width:200px;text-align:center;transform-origin:50% 50%;transform:scaleX(0.9426);top:865.5px;"><span id="f19">Feb</span></div><div class="t tm" style="left:113.6px;width:200px;text-align:center;transform-origin:50% 50%;transform:scaleX(0.9675);top:865.5px;"><span id="f20">Mar</span></div><div class="t tm" style="left:200.39999999999998px;width:200px;text-align:center;transform-origin:50% 50%;transform:scaleX(0.9900);top:865.5px;"><span id="f21">Abr</span></div><div class="t tm" style="left:287px;width:200px;text-align:center;transform-origin:50% 50%;transform:scaleX(0.9542);top:865.5px;"><span id="f22">Mayo</span></div><div class="t tm" style="left:373.5px;width:200px;text-align:center;transform-origin:50% 50%;transform:scaleX(0.9814);top:865.5px;"><span id="f23">Jun</span></div><div class="t tm" style="left:456px;width:200px;text-align:center;transform-origin:50% 50%;transform:scaleX(1.0102);top:865.5px;"><span id="f24">Jul</span></div><div class="t tm" style="left:546.5px;width:200px;text-align:center;transform-origin:50% 50%;transform:scaleX(0.9364);top:865.5px;"><span id="f25">Ago</span></div><div class="t tm" style="left:633.3px;width:200px;text-align:center;transform-origin:50% 50%;transform:scaleX(0.9129);top:865.5px;"><span id="f26">Sep</span></div><div class="t tm" style="left:719.8px;width:200px;text-align:center;transform-origin:50% 50%;transform:scaleX(1.0176);top:865.5px;"><span id="f27">Oct</span></div><div class="t tm" style="left:810.2px;width:200px;text-align:center;transform-origin:50% 50%;transform:scaleX(0.9605);top:865.5px;"><span id="f28">Nov</span></div><div class="t tm" style="left:884.6px;width:200px;text-align:center;transform-origin:50% 50%;transform:scaleX(0.9802);top:865.5px;"><span id="f29">Dic</span></div><div class="t tm b" style="left:975.4000000000001px;width:200px;text-align:center;transform-origin:50% 50%;transform:scaleX(1.0298);top:865.5px;"><span id="f30">2026</span></div><div class="t tm" style="left:1057.5px;width:200px;text-align:center;transform-origin:50% 50%;transform:scaleX(0.9426);top:865.5px;"><span id="f31">Feb</span></div><div class="t tm" style="left:1136px;width:200px;text-align:center;transform-origin:50% 50%;transform:scaleX(0.9675);top:865.5px;"><span id="f32">Mar</span></div><div class="t tm" style="left:1226px;width:200px;text-align:center;transform-origin:50% 50%;transform:scaleX(0.9900);top:865.5px;"><span id="f33">Abr</span></div>
<div class="tag" style="top:144px"></div>
<div class="tag" style="top:450px"></div>
<div class="t tg" style="left:1369px;transform-origin:0 50%;transform:scaleX(0.9090);top:144.6px;"><span id="f41">4,708%</span></div><div class="t tg" style="left:1369px;transform-origin:0 50%;transform:scaleX(0.9090);top:450.6px;"><span id="f42">4,184%</span></div>
<div class="t " style="left:48.8px;transform-origin:0 50%;transform:scaleX(0.9972);top:905px;font-size:20.6px;line-height:24px;font-weight:bold;color:#e0e0e0"><span id="f43">TradingView</span></div>
</body></html>
